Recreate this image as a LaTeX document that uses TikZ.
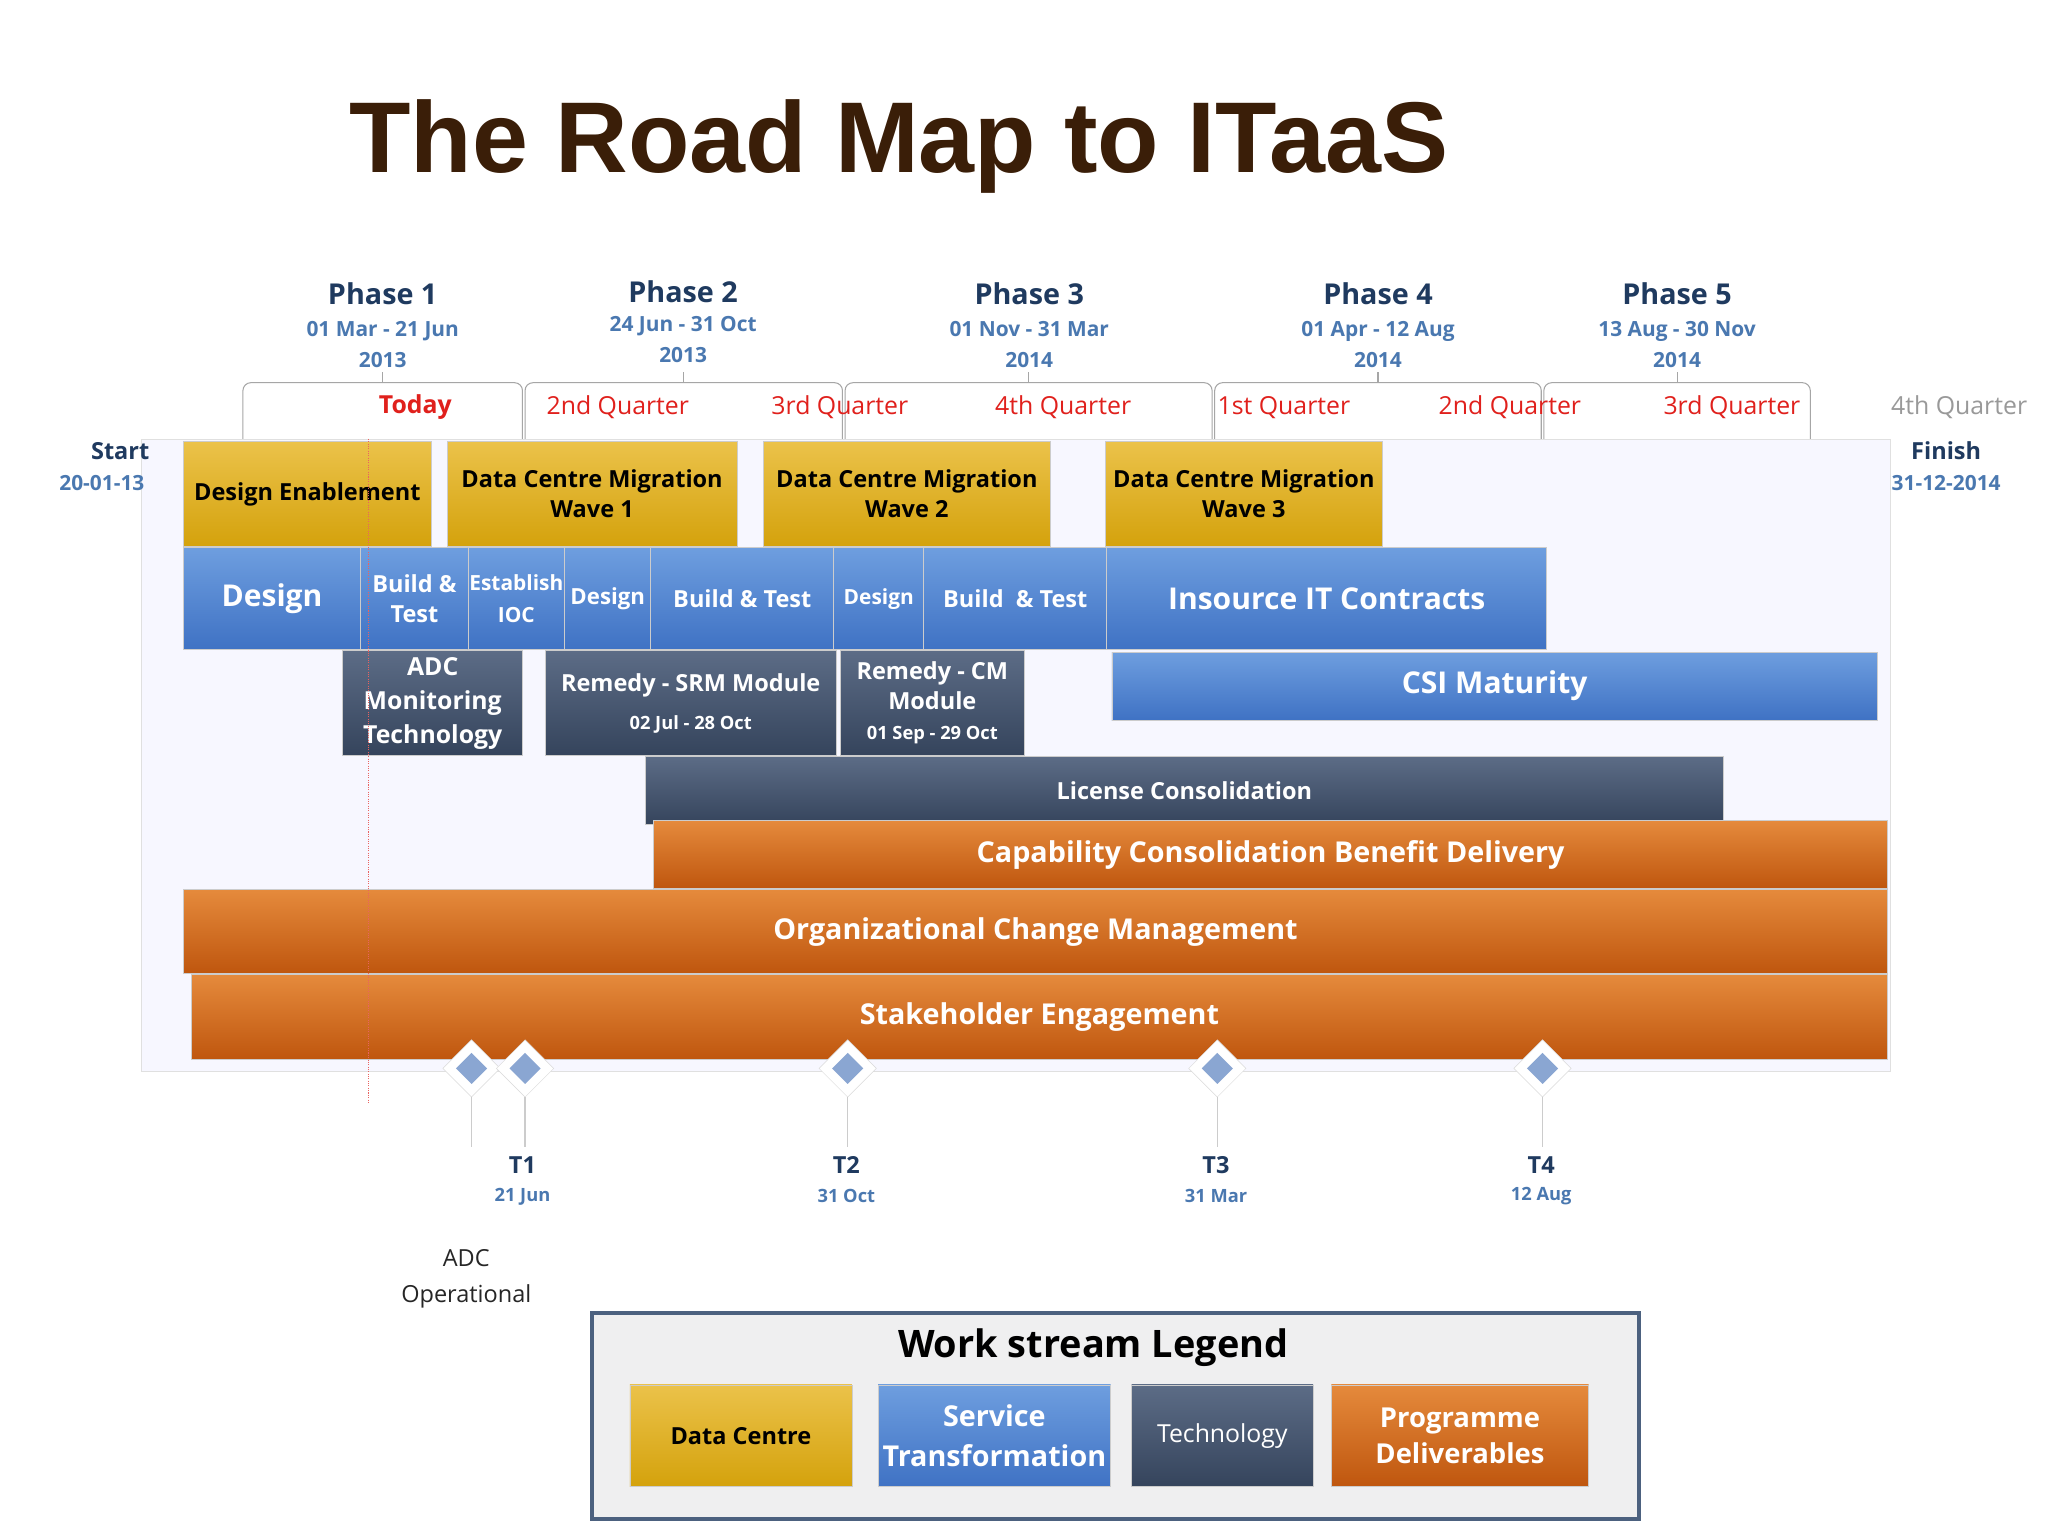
\documentclass[tikz,border=0pt]{standalone}
\usepackage{fontspec}
\setmainfont{Open Sans}
\newfontfamily\titlefont{Liberation Sans}
\definecolor{navy}{HTML}{1F3A5F}
\definecolor{dateblue}{HTML}{4A78B0}
\definecolor{qred}{HTML}{E0201C}
\definecolor{brown}{HTML}{3A1E08}
\definecolor{goldtop}{HTML}{EBC24A}
\definecolor{goldbot}{HTML}{D4A20C}
\definecolor{bluetop}{HTML}{6E9EDF}
\definecolor{bluebot}{HTML}{3F72C4}
\definecolor{slatetop}{HTML}{5C6C86}
\definecolor{slatebot}{HTML}{35445C}
\definecolor{orngtop}{HTML}{E58A3C}
\definecolor{orngbot}{HTML}{BF560E}
\definecolor{milefill}{HTML}{8AA6D2}
\tikzset{
  ws/.style={draw=white!80!black, line width=0.6pt, inner sep=0pt, anchor=north west, align=center, text=white, font=\fontsize{18}{23}\selectfont\bfseries},
  gold/.style={ws, top color=goldtop, bottom color=goldbot, text=black},
  blue/.style={ws, top color=bluetop, bottom color=bluebot},
  slate/.style={ws, top color=slatetop, bottom color=slatebot},
  orng/.style={ws, top color=orngtop, bottom color=orngbot},
  phase/.style={font=\fontsize{22}{26}\selectfont\bfseries, text=navy, align=center},
  pdate/.style={font=\fontsize{16}{24}\selectfont\bfseries, text=dateblue, align=center},
  qtr/.style={font=\fontsize{19}{22}\selectfont, text=qred},
  brk/.style={draw=black!35, line width=0.8pt, rounded corners=6pt},
  mile/.style={diamond, draw=black!15, fill=white, minimum size=44pt, inner sep=0pt},
  milein/.style={diamond, fill=milefill, minimum size=24pt, inner sep=0pt}
}
\newcommand\wsbox[7]{\node[#2, minimum width={(#5-#3)*1pt}, minimum height={(#6-#4)*1pt}] (#1) at (#3,#4) {#7};}
\usetikzlibrary{shapes.geometric}
\begin{document}
\begin{tikzpicture}[x=1pt,y=-1pt]
\useasboundingbox[fill=white] (0,0) rectangle (1568,1176);
% title
\node[font=\titlefont\fontsize{77}{90}\selectfont\bfseries, text=brown] (title) at (688,112) {The Road Map to ITaaS};
% phases
\node[phase] (p1) at (293,225) {Phase 1};
\node[pdate] (p1d) at (293,264) {01 Mar - 21 Jun\\2013};
\node[phase] (p2) at (523,223) {Phase 2};
\node[pdate] (p2d) at (523,260) {24 Jun - 31 Oct\\2013};
\node[phase] (p3) at (788,225) {Phase 3};
\node[pdate] (p3d) at (788,264) {01 Nov - 31 Mar\\2014};
\node[phase] (p4) at (1055,225) {Phase 4};
\node[pdate] (p4d) at (1055,264) {01 Apr - 12 Aug\\2014};
\node[phase] (p5) at (1284,225) {Phase 5};
\node[pdate] (p5d) at (1284,264) {13 Aug - 30 Nov\\2014};
% brackets
\foreach \a/\b in {186/400,402/645,647/928,930/1180,1182/1386}{
  \draw[brk] (\a,336) -- (\a,293) -- (\b,293) -- (\b,336);
  \draw[draw=black!35, line width=0.8pt] ({(\a+\b)/2},293) -- ({(\a+\b)/2},285);
}
% panel
\draw[draw=black!12, fill=blue!3] (108,336) rectangle (1447,820);
% quarters
\node[qtr, font=\fontsize{19}{22}\selectfont\bfseries] (today) at (318,312) {Today};
\node[qtr] (q1) at (473,312) {2nd Quarter};
\node[qtr] (q2) at (643,312) {3rd Quarter};
\node[qtr] (q3) at (814,312) {4th Quarter};
\node[qtr] (q4) at (983,312) {1st Quarter};
\node[qtr] (q5) at (1156,312) {2nd Quarter};
\node[qtr] (q6) at (1326,312) {3rd Quarter};
\node[qtr, text=black!40] (q7) at (1500,312) {4th Quarter};
\node[phase, font=\fontsize{18}{22}\selectfont\bfseries] (start) at (92,345) {Start};
\node[pdate] (startd) at (78,370) {20-01-13};
\node[phase, font=\fontsize{18}{22}\selectfont\bfseries] (finish) at (1490,345) {Finish};
\node[pdate] (finishd) at (1490,370) {31-12-2014};
% data centre
\wsbox{de}{gold}{140}{338}{330}{418}{Design Enablement}
\wsbox{w1}{gold}{342}{338}{564}{418}{Data Centre Migration\\Wave 1}
\wsbox{w2}{gold}{584}{338}{804}{418}{Data Centre Migration\\Wave 2}
\wsbox{w3}{gold}{846}{338}{1058}{418}{Data Centre Migration\\Wave 3}
% service transformation
\wsbox{s1}{blue, font=\fontsize{23}{28}\selectfont\bfseries}{140}{419}{276}{497}{Design}
\wsbox{s2}{blue}{276}{419}{358}{497}{Build \&\\Test}
\wsbox{s3}{blue, font=\fontsize{16}{24}\selectfont\bfseries}{358}{419}{432}{497}{Establish\\IOC}
\wsbox{s4}{blue, font=\fontsize{17}{22}\selectfont\bfseries}{432}{419}{498}{497}{Design}
\wsbox{s5}{blue}{498}{419}{638}{497}{Build \& Test}
\wsbox{s6}{blue, font=\fontsize{16}{22}\selectfont\bfseries}{638}{419}{707}{497}{Design}
\wsbox{s7}{blue}{707}{419}{847}{497}{Build~ \& Test}
\wsbox{s8}{blue, font=\fontsize{23}{28}\selectfont\bfseries}{847}{419}{1184}{497}{Insource IT Contracts}
\wsbox{csi}{blue, font=\fontsize{23}{28}\selectfont\bfseries}{851}{499}{1437}{551}{CSI Maturity}
% technology
\wsbox{adc}{slate, font=\fontsize{19}{26}\selectfont\bfseries}{262}{498}{400}{578}{ADC\\Monitoring\\Technology}
\wsbox{srm}{slate}{417}{498}{640}{578}{Remedy - SRM Module\\[6pt]{\fontsize{14}{18}\selectfont 02 Jul - 28 Oct}}
\wsbox{cm}{slate}{643}{498}{784}{578}{Remedy - CM\\Module\\{\fontsize{14}{20}\selectfont 01 Sep - 29 Oct}}
\wsbox{lic}{slate}{494}{579}{1319}{631}{License Consolidation}
% programme deliverables
\wsbox{cap}{orng, font=\fontsize{22}{27}\selectfont\bfseries}{500}{628}{1445}{680}{Capability Consolidation Benefit Delivery}
\wsbox{ocm}{orng, font=\fontsize{22}{27}\selectfont\bfseries}{140}{681}{1445}{745}{Organizational Change Management}
\wsbox{ste}{orng, font=\fontsize{22}{27}\selectfont\bfseries}{146}{746}{1445}{811}{Stakeholder Engagement}
% today line
\draw[qred!70, densely dotted, line width=0.8pt] (282,336) -- (282,845);
% milestones
\foreach \n/\x in {m0/361,m1/402,m2/649,m3/932,m4/1181}{
  \node[mile] (\n) at (\x,818) {};
  \node[milein] at (\n) {};
  \draw[black!20, line width=1pt] (\n.south) -- (\x,878);
}
\node[phase, font=\fontsize{18}{22}\selectfont\bfseries] (t1) at (400,892) {T1};
\node[pdate, font=\fontsize{14}{18}\selectfont\bfseries] (t1d) at (400,916) {21 Jun};
\node[phase, font=\fontsize{18}{22}\selectfont\bfseries] (t2) at (648,892) {T2};
\node[pdate, font=\fontsize{14}{18}\selectfont\bfseries] (t2d) at (648,916) {31 Oct};
\node[phase, font=\fontsize{18}{22}\selectfont\bfseries] (t3) at (931,892) {T3};
\node[pdate, font=\fontsize{14}{18}\selectfont\bfseries] (t3d) at (931,916) {31 Mar};
\node[phase, font=\fontsize{18}{22}\selectfont\bfseries] (t4) at (1180,892) {T4};
\node[pdate, font=\fontsize{14}{18}\selectfont\bfseries] (t4d) at (1180,916) {12 Aug};
\node[align=center, font=\fontsize{18}{27}\selectfont, text=black!85] (adcop) at (357,979) {ADC\\Operational};
% legend
\draw[draw=navy!80, line width=3pt, fill=blue!5!gray!12] (453,1005) rectangle (1255,1163);
\node[font=\fontsize{29}{34}\selectfont\bfseries] (leg) at (837,1032) {Work stream Legend};
\wsbox{l1}{gold}{482}{1060}{652}{1138}{Data Centre}
\wsbox{l2}{blue, font=\fontsize{22}{31}\selectfont\bfseries}{672}{1060}{850}{1138}{Service\\Transformation}
\wsbox{l3}{slate, font=\fontsize{19}{23}\selectfont}{866}{1060}{1005}{1138}{Technology}
\wsbox{l4}{orng, font=\fontsize{21}{28}\selectfont\bfseries}{1019}{1060}{1216}{1138}{Programme\\Deliverables}
\end{tikzpicture}
\end{document}
